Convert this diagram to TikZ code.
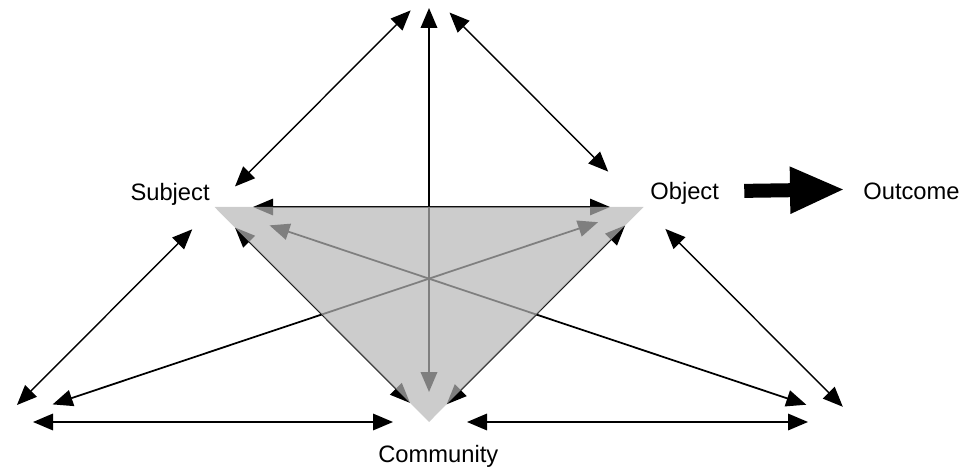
\documentclass[tikz,border=0pt]{standalone}
\usepackage{fontspec}
\setmainfont{Liberation Sans}
\usetikzlibrary{arrows.meta}

\definecolor{shadegray}{RGB}{182,182,182}

\begin{document}
\begin{tikzpicture}[
  link/.style={black, line width=0.8pt,
    {Triangle[length=0.4cm,width=0.33cm]}-{Triangle[length=0.4cm,width=0.33cm]}},
  lbl/.style={inner sep=0pt, font=\fontsize{13.5}{16}\selectfont},
  bigarrow/.style={black, line width=0.28cm, -{Triangle[length=1.1cm,width=0.86cm]}}
]

  \useasboundingbox (0,0) rectangle (19.32,9.38);

  % corners of the two triangles
  \coordinate (tool) at (8.58,9.54);
  \coordinate (subj) at (4.29,5.24);
  \coordinate (obj) at (12.87,5.24);
  \coordinate (rules) at (0,0.94);
  \coordinate (comm) at (8.58,0.94);
  \coordinate (labour) at (17.16,0.94);

  % links to the top corner
  \draw[link, shorten <=0.58cm, shorten >=0.52cm] (subj) -- (tool);
  \draw[link, shorten <=1.0cm, shorten >=0.58cm] (obj) -- (tool);
  \draw[link, line width=1.1pt, shorten <=0.6cm, shorten >=0.32cm] (comm) -- (tool);

  % links to the lower corners
  \draw[link, shorten <=0.63cm, shorten >=0.48cm] (subj) -- (rules);
  \draw[link, line width=1pt, shorten <=0.96cm, shorten >=1.11cm] (obj) -- (rules);
  \draw[link, line width=1pt, shorten <=1.16cm, shorten >=1.09cm] (subj) -- (labour);
  \draw[link, shorten <=0.62cm, shorten >=0.43cm] (obj) -- (labour);
  \draw[link, line width=1pt, shorten <=0.66cm, shorten >=0.72cm] (rules) -- (comm);
  \draw[link, line width=1pt, shorten <=0.76cm, shorten >=1.0cm] (comm) -- (labour);

  % edges of the inner triangle
  \draw[link, shorten <=0.77cm, shorten >=0.67cm] (subj) -- (obj);
  \draw[link, shorten <=0.58cm, shorten >=0.54cm] (subj) -- (comm);
  \draw[link, shorten <=0.52cm, shorten >=0.5cm] (obj) -- (comm);

  % shaded inner triangle laid over the links
  \fill[shadegray, fill opacity=0.7] (subj) -- (obj) -- (comm) -- cycle;

  % labels
  \node[lbl, anchor=base east] (subjlbl) at (4.2,5.36) {Subject};
  \node[lbl, anchor=base west] (objlbl) at (13.0,5.38) {Object};
  \node[lbl, anchor=base west] (outlbl) at (17.26,5.38) {Outcome};
  \node[lbl, anchor=base west] (commlbl) at (7.56,0.14) {Community};

  % object gives the outcome
  \draw[bigarrow, shorten <=0.5cm, shorten >=0.36cm]
    ([yshift=1.5pt]objlbl.east) -- ([yshift=1.5pt]outlbl.west);

\end{tikzpicture}
\end{document}
